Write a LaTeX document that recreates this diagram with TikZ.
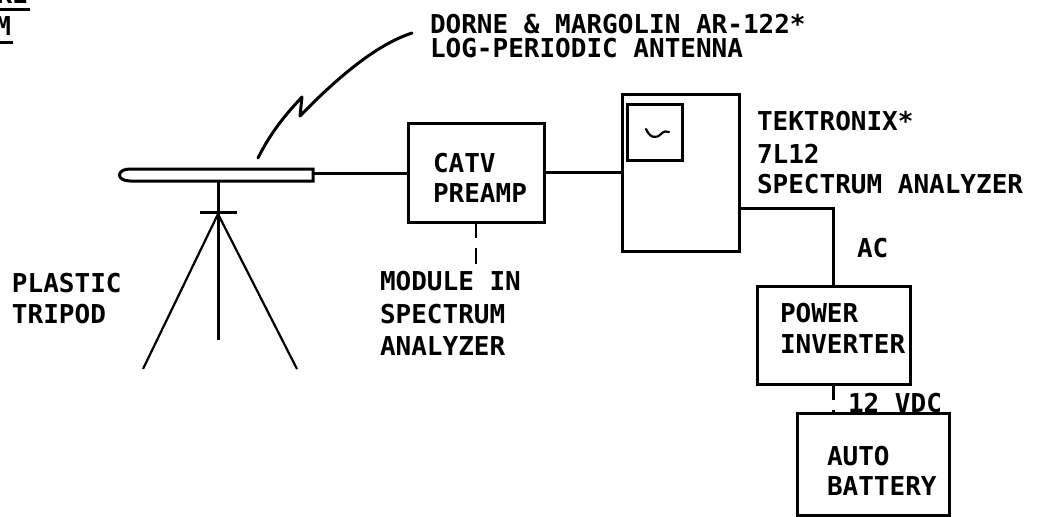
\documentclass[tikz,border=0pt]{standalone}
\usepackage{fontspec}
\newfontfamily\leroy{DejaVu Sans Mono}
\newcommand\lfont{\leroy\bfseries\fontsize{26}{30}\selectfont}
\begin{document}
\begin{tikzpicture}[x=1pt,y=-1pt,
  lbl/.style={font=\lfont, anchor=base west, inner sep=0pt, outer sep=0pt},
  blk/.style={draw, line width=3pt, inner sep=0pt, outer sep=0pt},
  wire/.style={line width=3pt},
  dwire/.style={line width=2.6pt, dash pattern=on 16pt off 10pt},
  leg/.style={line width=2.2pt}]
\useasboundingbox (0,0) rectangle (1045,517);
\clip (0,0) rectangle (1045,517);

% header fragments (cut off at left edge, as in the reference)
\node[lbl, anchor=base east] (hdr1) at (28,3) {RE};
\draw[wire] (-5,9) -- (30,9);
\node[lbl, anchor=base east] (hdr2) at (11,35) {M};
\draw[wire] (-5,42) -- (13,42);

% boxes
\node[blk, minimum width=136pt, minimum height=99pt] (preamp) at (476,172.5) {};
\node[blk, minimum width=117pt, minimum height=157pt] (spec) at (680.5,172.5) {};
\node[blk, minimum width=55pt, minimum height=56pt] (screen) at (654.5,132) {};
\node[blk, minimum width=153pt, minimum height=98pt] (power) at (833.5,335) {};
\node[blk, minimum width=152pt, minimum height=102pt] (batt) at (873,464) {};

% screen trace
\draw[line width=2.2pt, line cap=round] (646,129) .. controls (650,138) and (656,139) .. (661,134) .. controls (664,131) and (667,131) .. (669,132);

% texts
\node[lbl] (catv) at (433,172) {CATV};
\node[lbl] (preampB) at (433,202) {PREAMP};
\node[lbl] (tek1) at (757,130) {TEKTRONIX*};
\node[lbl] (tek2) at (757,163) {7L12};
\node[lbl] (tek3) at (757,193) {SPECTRUM ANALYZER};
\node[lbl] (ant1) at (430,33) {DORNE \& MARGOLIN AR-122*};
\node[lbl] (ant2) at (430,57) {LOG-PERIODIC ANTENNA};
\node[lbl] (trip1) at (12,292) {PLASTIC};
\node[lbl] (trip2) at (12,323) {TRIPOD};
\node[lbl] (mod1) at (380,290) {MODULE IN};
\node[lbl] (mod2) at (380,323) {SPECTRUM};
\node[lbl] (mod3) at (380,355) {ANALYZER};
\node[lbl] (ac) at (857,257) {AC};
\node[lbl] (pw1) at (780,322) {POWER};
\node[lbl] (pw2) at (780,353) {INVERTER};
\node[lbl] (vdc) at (848,412) {12 VDC};
\node[lbl] (bt1) at (827,465) {AUTO};
\node[lbl] (bt2) at (827,495) {BATTERY};

% antenna
\draw[wire] (313,169) -- (130,169) .. controls (116,169) and (116,181) .. (130,181) -- (313,181) -- cycle;
\coordinate (antend) at (313,173);
% mast and tripod
\coordinate (mtop) at (218,181);
\coordinate (apex) at (218,214);
\draw[wire] (mtop) -- (218,340);
\draw[wire] (200,212) -- (237,212);
\draw[leg] (apex) -- (143,369);
\draw[leg] (apex) -- (297,369);

% antenna pointer
\coordinate (ptr0) at (258,158);
\coordinate (ptr1) at (302,97);
\coordinate (ptr2) at (300,116);
\coordinate (ptr3) at (412,33);
\draw[wire, line cap=round, line join=round] (ptr0) .. controls (272,130) and (288,112) .. (ptr1) -- (ptr2) .. controls (335,80) and (375,45) .. (ptr3);

% connectors
\draw[wire] (antend) -- (antend -| preamp.west);
\draw[wire] (preamp.east) -- (preamp.east -| spec.west);
\coordinate (acbend) at (833.5,208);
\draw[wire] ([yshift=-35.5pt]spec.east) -- (acbend) -- (power.north);
\draw[dwire] (power.south) -- (power.south |- batt.north);
\coordinate (modend) at (476,270);
\draw[dwire] (preamp.south) -- (modend);
\end{tikzpicture}
\end{document}
